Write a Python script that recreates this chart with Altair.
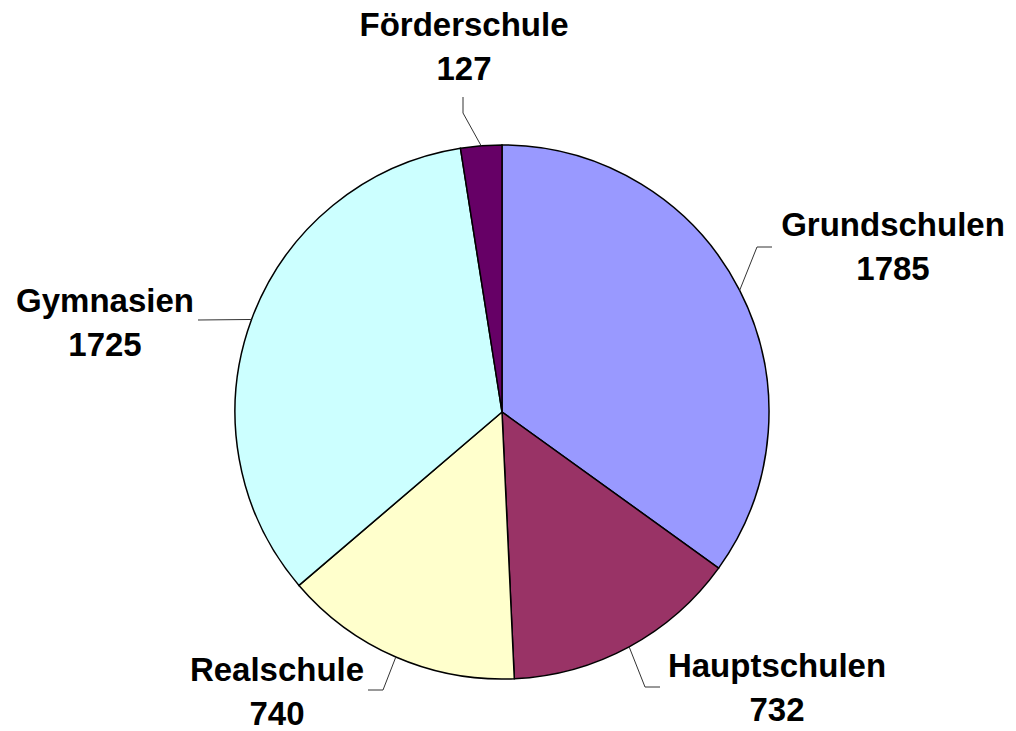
import altair as alt
import pandas as pd
import numpy as np

# ---- data ----
categories = ["Grundschulen", "Hauptschulen", "Realschule", "Gymnasien", "Förderschule"]
values = [1785, 732, 740, 1725, 127]
colors = ["#9999FF", "#993366", "#FFFFCC", "#CCFFFF", "#660066"]

# ---- layout (chart pixels) ----
W, H = 1000, 723
CX, CY = 494, 404     # pie centre
R = 267               # pie radius
# label first-line baseline, relative to centre (x right, y down)
label_off = {
    "Grundschulen": (391, -176),
    "Hauptschulen": (275, 265),
    "Realschule": (-225, 269),
    "Gymnasien": (-397, -100),
    "Förderschule": (-38, -376),
}
# leader line elbow and end, relative to centre (x right, y down)
leader_pts = {
    "Grundschulen": [(255, -165), (270, -165)],
    "Hauptschulen": [(143, 275), (158, 275)],
    "Realschule": [(-119, 278), (-134, 278)],
    "Gymnasien": [(-304, -92)],
    "Förderschule": [(-39, -299), (-39, -315)],
}

pie_df = pd.DataFrame({"cat": categories, "value": values, "idx": range(len(values))})

total = float(sum(values))
cum = np.cumsum([0] + values)
mid = [(cum[i] + cum[i + 1]) / 2 / total * 2 * np.pi for i in range(len(values))]

text_rows, line_rows = [], []
for i, (c, v) in enumerate(zip(categories, values)):
    dx, dy = label_off[c]
    text_rows.append({"cat": c, "label": f"{c}\n{v}", "x": dx, "y": -dy})
    pts = [(R * np.sin(mid[i]), -R * np.cos(mid[i]))] + leader_pts[c]
    for k, (px, py) in enumerate(pts):
        line_rows.append({"cat": c, "pt": k, "x": px, "y": -py})
text_df = pd.DataFrame(text_rows)
line_df = pd.DataFrame(line_rows)

xs = alt.Scale(domain=[-CX, W - CX], nice=False, zero=False)
ys = alt.Scale(domain=[-(H - CY), CY], nice=False, zero=False)

pie = alt.Chart(pie_df).mark_arc(outerRadius=R, stroke="black", strokeWidth=1.5).encode(
    theta=alt.Theta("value:Q", stack=True),
    color=alt.Color("cat:N", scale=alt.Scale(domain=categories, range=colors), legend=None),
    order=alt.Order("idx:Q"),
    x=alt.value(CX),
    y=alt.value(CY),
)

leaders = alt.Chart(line_df).mark_line(color="#333333", strokeWidth=1).encode(
    x=alt.X("x:Q", scale=xs, axis=None),
    y=alt.Y("y:Q", scale=ys, axis=None),
    detail="cat:N",
    order="pt:Q",
)

labels = alt.Chart(text_df).mark_text(
    font="Liberation Sans", fontWeight="bold", fontSize=33, lineBreak="\n",
    lineHeight=44, align="center", baseline="alphabetic", color="black",
).encode(
    x=alt.X("x:Q", scale=xs, axis=None),
    y=alt.Y("y:Q", scale=ys, axis=None),
    text="label:N",
)

chart = alt.layer(pie, leaders, labels).properties(
    width=W, height=H, padding=0, autosize=alt.AutoSizeParams(type="none"), background="white"
).configure_view(stroke=None)

chart.save("out.html", embed_options={"renderer": "svg", "actions": False})
